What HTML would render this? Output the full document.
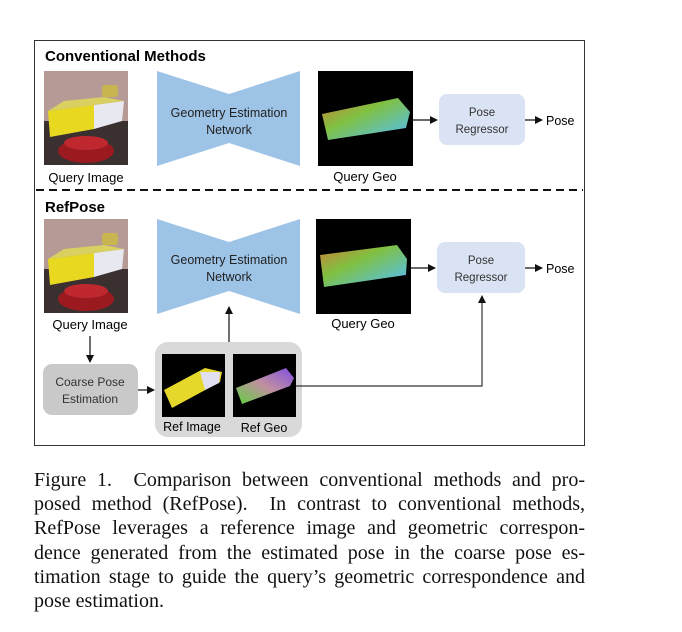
<!DOCTYPE html>
<html><head><meta charset="utf-8"><style>
body{margin:0;background:#fff;width:682px;height:632px;overflow:hidden;position:relative}
.cap{position:absolute;left:34px;top:468px;width:551px;font-family:"Liberation Serif",serif;font-size:20px;line-height:24.2px;color:#111}
.cap div{text-align:justify;text-align-last:justify;white-space:nowrap}
.cap div.l{text-align-last:left}
</style></head><body>
<svg width="682" height="460" style="position:absolute;left:0;top:0" font-family="Liberation Sans, sans-serif">
<defs>
<linearGradient id="geo2" x1="0" y1="0" x2="1" y2="1">
<stop offset="0" stop-color="#d0803a"/><stop offset="0.4" stop-color="#80c040"/><stop offset="0.8" stop-color="#60c0c0"/><stop offset="1" stop-color="#9070e0"/></linearGradient>
<linearGradient id="geo3" x1="0" y1="1" x2="1" y2="0">
<stop offset="0" stop-color="#60d040"/><stop offset="0.5" stop-color="#c090a0"/><stop offset="1" stop-color="#8050e0"/></linearGradient>
<marker id="ah" markerWidth="8" markerHeight="8" refX="7" refY="4" orient="auto" markerUnits="userSpaceOnUse"><path d="M0,0 L8,4 L0,8z" fill="#111"/></marker>
<g id="photo">
<rect width="84" height="94" fill="#b59a95"/>
<rect y="50" width="84" height="44" fill="#3a3030"/>
<ellipse cx="42" cy="80" rx="28" ry="12" fill="#9a1a20"/>
<ellipse cx="42" cy="72" rx="22" ry="7" fill="#c02830"/>
<rect x="58" y="14" width="16" height="12" rx="3" fill="#c8b550"/>
<polygon points="4,40 50,34 50,58 6,66" fill="#e8d820"/>
<polygon points="50,34 80,30 78,50 50,58" fill="#e8e8f0"/>
<polygon points="4,40 50,34 80,30 60,26 20,30" fill="#d8d060"/>
</g>
</defs>
<rect x="34.5" y="40.5" width="550" height="405" fill="#fff" stroke="#333" stroke-width="1"/>
<text x="45" y="61" font-size="15" font-weight="bold">Conventional Methods</text>
<use href="#photo" x="44" y="71"/>
<polygon points="157,71 229,94 300,71 300,166 229,143 157,166" fill="#9dc3e6"/>
<text x="229" y="117" font-size="12.5" text-anchor="middle" fill="#222">Geometry Estimation</text>
<text x="229" y="134" font-size="12.5" text-anchor="middle" fill="#222">Network</text>
<text x="86" y="182" font-size="13" text-anchor="middle">Query Image</text>
<rect x="318" y="71" width="95" height="95" fill="#000"/>
<polygon points="322,114 398,98 410,112 406,128 328,140" fill="url(#geo2)"/>
<text x="365" y="181" font-size="13" text-anchor="middle">Query Geo</text>
<line x1="413" y1="120" x2="437" y2="120" stroke="#111" stroke-width="1.2" marker-end="url(#ah)"/>
<rect x="439" y="94" width="86" height="51" rx="8" fill="#dae3f3"/>
<text x="482" y="116" font-size="11.5" text-anchor="middle" fill="#333">Pose</text>
<text x="482" y="133" font-size="11.5" text-anchor="middle" fill="#333">Regressor</text>
<line x1="525" y1="120" x2="542" y2="120" stroke="#111" stroke-width="1.2" marker-end="url(#ah)"/>
<text x="546" y="125" font-size="12.5">Pose</text>
<line x1="36" y1="190" x2="583" y2="190" stroke="#111" stroke-width="2" stroke-dasharray="8,5"/>
<text x="45" y="212" font-size="15" font-weight="bold">RefPose</text>
<use href="#photo" x="44" y="219"/>
<polygon points="157,219 229,242 300,219 300,314 229,291 157,314" fill="#9dc3e6"/>
<text x="229" y="264" font-size="12.5" text-anchor="middle" fill="#222">Geometry Estimation</text>
<text x="229" y="281" font-size="12.5" text-anchor="middle" fill="#222">Network</text>
<text x="90" y="329" font-size="13" text-anchor="middle">Query Image</text>
<rect x="316" y="219" width="95" height="95" fill="#000"/>
<polygon points="320,255 397,245 407,259 406,275 324,287" fill="url(#geo2)"/>
<text x="363" y="328" font-size="13" text-anchor="middle">Query Geo</text>
<line x1="411" y1="268" x2="435" y2="268" stroke="#111" stroke-width="1.2" marker-end="url(#ah)"/>
<rect x="437" y="242" width="88" height="51" rx="8" fill="#dae3f3"/>
<text x="481" y="264" font-size="11.5" text-anchor="middle" fill="#333">Pose</text>
<text x="481" y="281" font-size="11.5" text-anchor="middle" fill="#333">Regressor</text>
<line x1="525" y1="268" x2="542" y2="268" stroke="#111" stroke-width="1.2" marker-end="url(#ah)"/>
<text x="546" y="273" font-size="12.5">Pose</text>
<line x1="90" y1="336" x2="90" y2="362" stroke="#111" stroke-width="1.2" marker-end="url(#ah)"/>
<rect x="43" y="364" width="95" height="51" rx="9" fill="#c9c9c9"/>
<text x="90" y="386" font-size="12" text-anchor="middle" fill="#333">Coarse Pose</text>
<text x="90" y="403" font-size="12" text-anchor="middle" fill="#333">Estimation</text>
<line x1="138" y1="390" x2="154" y2="390" stroke="#111" stroke-width="1.2" marker-end="url(#ah)"/>
<rect x="155" y="342" width="147" height="95" rx="13" fill="#d9d9d9"/>
<rect x="162" y="354" width="63" height="63" fill="#000"/>
<polygon points="164,390 205,368 222,372 220,382 172,408" fill="#e6d82a"/>
<polygon points="200,372 220,372 219,383 205,390" fill="#e0e0f0"/>
<rect x="233" y="354" width="63" height="63" fill="#000"/>
<polygon points="236,388 286,368 294,378 290,386 242,404" fill="url(#geo3)"/>
<text x="192" y="431" font-size="12.5" text-anchor="middle">Ref Image</text>
<text x="264" y="432" font-size="12.5" text-anchor="middle">Ref Geo</text>
<line x1="229" y1="342" x2="229" y2="307" stroke="#111" stroke-width="1.2" marker-end="url(#ah)"/>
<polyline points="296,386 482,386 482,296" fill="none" stroke="#333" stroke-width="1.2" marker-end="url(#ah)"/>
</svg>
<div class="cap">
<div>Figure 1.&nbsp; Comparison between conventional methods and pro-</div>
<div>posed method (RefPose).&nbsp; In contrast to conventional methods,</div>
<div>RefPose leverages a reference image and geometric correspon-</div>
<div>dence generated from the estimated pose in the coarse pose es-</div>
<div>timation stage to guide the query’s geometric correspondence and</div>
<div class="l">pose estimation.</div>
</div>
</body></html>
